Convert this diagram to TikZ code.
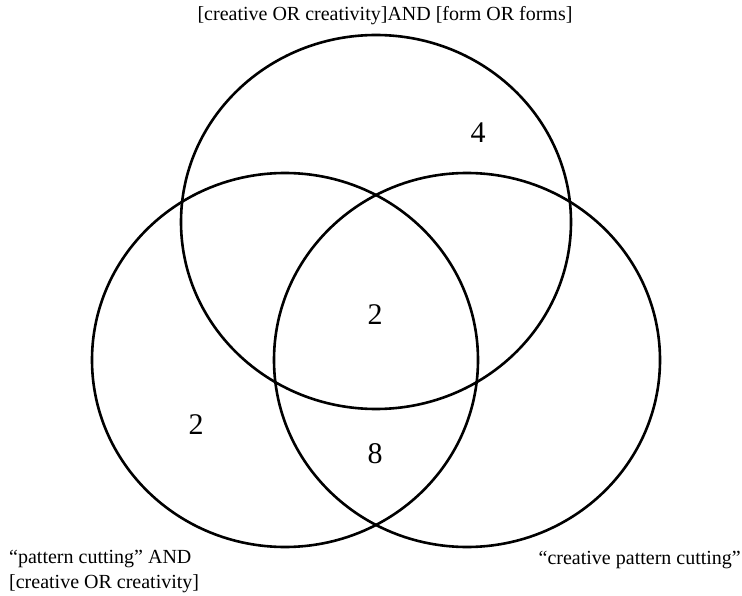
\documentclass[tikz,border=0pt]{standalone}
\usepackage{fontspec}
\setmainfont{Liberation Serif}
\begin{document}
\begin{tikzpicture}[x=1pt,y=-1pt,
  ring/.style={line width=2.6pt},
  lbl/.style={font=\fontsize{20}{25}\selectfont, inner sep=0pt, align=left},
  num/.style={font=\fontsize{30}{30}\selectfont, inner sep=0pt}]
\useasboundingbox (0,0) rectangle (742,596);
\coordinate (ct) at (376,222);
\coordinate (cl) at (285,360);
\coordinate (cr) at (467,360);
\draw[ring] (ct) ellipse [x radius=195, y radius=187];
\draw[ring] (cl) ellipse [x radius=193, y radius=187];
\draw[ring] (cr) ellipse [x radius=193, y radius=187];
\node[lbl] (ttop) at (385,16) {[creative OR creativity]AND [form OR forms]};
\node[lbl, anchor=west] (tleft) at (9,571) {“pattern cutting” AND\\{}[creative OR creativity]};
\node[lbl, anchor=east] (tright) at (741,560) {“creative pattern cutting”};
\node[num] (n4) at (478,133) {4};
\node[num] (n2c) at (375,315) {2};
\node[num] (n2l) at (196,425) {2};
\node[num] (n8) at (375,454) {8};
\end{tikzpicture}
\end{document}
